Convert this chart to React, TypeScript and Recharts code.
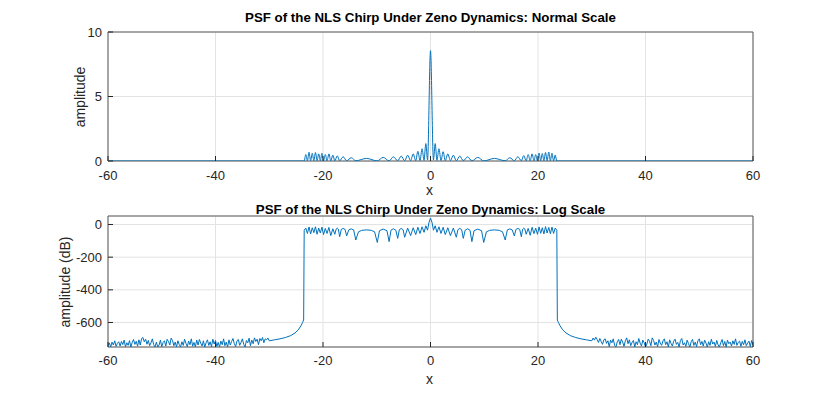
import { LineChart, Line, XAxis, YAxis, CartesianGrid, ReferenceArea } from "recharts";

// sample positions and amplitude of the PSF (normal scale)
const ampX = [
  -60, -23.5, -23.2, -22.9, -22.6, -22.3, -22.0, -21.7, -21.4, -21.1,
  -20.8, -20.5, -20.2, -19.9, -19.57, -19.25, -18.9, -18.55, -18.17, -17.8,
  -17.35, -16.9, -16.25, -15.6, -14.75, -13.9, -11.9, -9.9, -8.8, -7.7,
  -6.9, -6.1, -5.45, -4.8, -4.25, -3.7, -3.22, -2.75, -2.35, -1.95,
  -1.57, -1.2, -0.87, -0.55, 0, 0.55, 0.87, 1.2, 1.57, 1.95,
  2.35, 2.75, 3.22, 3.7, 4.25, 4.8, 5.45, 6.1, 6.9, 7.7,
  8.8, 9.9, 11.9, 13.9, 14.75, 15.6, 16.25, 16.9, 17.35, 17.8,
  18.17, 18.55, 18.9, 19.25, 19.57, 19.9, 20.2, 20.5, 20.8, 21.1,
  21.4, 21.7, 22.0, 22.3, 22.6, 22.9, 23.2, 23.5, 60,
];
const ampY = [
  0, 0, 0.5, 0.02, 0.68, 0.02, 0.6, 0.02, 0.66, 0.02,
  0.55, 0.02, 0.6, 0.02, 0.5, 0.02, 0.55, 0.02, 0.45, 0.02,
  0.4, 0.02, 0.33, 0.02, 0.25, 0.02, 0.2, 0.01, 0.28, 0.01,
  0.32, 0.02, 0.38, 0.02, 0.45, 0.03, 0.55, 0.03, 0.75, 0.04,
  0.95, 0.05, 1.35, 0.08, 8.55, 0.08, 1.35, 0.05, 0.95, 0.04,
  0.72, 0.03, 0.55, 0.03, 0.45, 0.02, 0.38, 0.02, 0.32, 0.01,
  0.28, 0.01, 0.2, 0.02, 0.25, 0.02, 0.33, 0.02, 0.42, 0.02,
  0.5, 0.02, 0.55, 0.02, 0.5, 0.02, 0.62, 0.02, 0.58, 0.02,
  0.66, 0.02, 0.7, 0.02, 0.6, 0.02, 0.45, 0, 0,
];

// log scale: noise floor sampled every 0.25 from -60 and from 30.25
const NOISE_STEP = 0.25;
const noiseLeftStart = -60;
const noiseRightStart = 30.25;
const noiseLeft = [
  -742, -725, -750, -720, -738, -712, -746, -728, -718, -744,
  -716, -735, -708, -748, -724, -740, -711, -750, -722, -704,
  -734, -715, -745, -706, -738, -698, -692, -718, -702, -733,
  -710, -742, -724, -700, -736, -749, -720, -750, -738, -708,
  -748, -722, -712, -744, -703, -716, -738, -696, -710, -742,
  -720, -750, -712, -735, -750, -718, -740, -702, -728, -748,
  -714, -736, -700, -745, -722, -749, -708, -738, -704, -726,
  -744, -712, -750, -724, -706, -740, -718, -748, -702, -732,
  -710, -746, -722, -750, -714, -736, -700, -742, -720, -750,
  -706, -738, -716, -698, -730, -747, -712, -704, -740, -722,
  -700, -734, -750, -710, -724, -696, -742, -708, -730, -694,
  -716, -702, -736, -698, -712, -692, -724, -700, -706, -695,
];
const noiseRight = [
  -695, -708, -690, -704, -722, -698, -716, -734, -706, -700,
  -728, -712, -748, -708, -724, -700, -740, -750, -718, -704,
  -736, -702, -720, -746, -712, -694, -730, -706, -742, -722,
  -710, -750, -718, -736, -698, -726, -744, -708, -724, -750,
  -732, -702, -714, -742, -694, -710, -738, -720, -748, -704,
  -726, -740, -712, -700, -736, -718, -750, -706, -728, -744,
  -714, -702, -734, -722, -750, -710, -698, -738, -724, -746,
  -708, -730, -750, -718, -704, -740, -720, -748, -712, -700,
  -736, -716, -744, -708, -726, -750, -718, -740, -702, -732,
  -720, -746, -710, -736, -750, -724, -704, -742, -716, -750,
  -708, -730, -720, -744, -712, -734, -700, -740, -722, -714,
  -746, -716, -736, -706, -742, -726, -714, -748, -710, -738,
];

// band region (-30..30): edges, lobes and nulls in dB
const bandX = [
  -30, -29, -28, -27, -26, -25.2, -24.6, -24.1, -23.8, -23.6,
  -23.5, -23.2, -22.9, -22.6, -22.3, -22.0, -21.7, -21.4, -21.1, -20.8,
  -20.5, -20.2, -19.9, -19.57, -19.25, -18.9, -18.55, -18.17, -17.8, -17.55,
  -17.35, -17.15, -16.9, -16.6, -16.25, -15.9, -15.6, -15.2, -14.75, -14.3,
  -13.9, -13.4, -12.8, -11.9, -11.0, -10.4, -9.9, -9.5, -8.8, -8.1,
  -7.7, -7.35, -6.9, -6.45, -6.1, -5.8, -5.45, -5.1, -4.8, -4.25,
  -3.7, -3.22, -2.75, -2.35, -1.95, -1.57, -1.2, -0.87, -0.55, -0.3,
  0, 0.3, 0.55, 0.87, 1.2, 1.57, 1.95, 2.35, 2.75, 3.22,
  3.7, 4.25, 4.8, 5.1, 5.45, 5.8, 6.1, 6.45, 6.9, 7.35,
  7.7, 8.1, 8.8, 9.5, 9.9, 10.4, 11.0, 11.9, 12.8, 13.4,
  13.9, 14.3, 14.75, 15.2, 15.6, 15.9, 16.25, 16.6, 16.9, 17.15,
  17.35, 17.55, 17.8, 18.17, 18.55, 18.9, 19.25, 19.57, 19.9, 20.2,
  20.5, 20.8, 21.1, 21.4, 21.7, 22.0, 22.3, 22.6, 22.9, 23.2,
  23.5, 23.6, 23.8, 24.1, 24.6, 25.2, 26, 27, 28, 29,
  30,
];
const bandDb = [
  -712, -706, -700, -692, -680, -664, -645, -620, -600, -585,
  -35, -22, -55, -15, -58, -20, -50, -14, -60, -22,
  -52, -16, -62, -24, -55, -18, -68, -26, -60, -28,
  -22, -28, -75, -30, -24, -30, -70, -33, -27, -33,
  -95, -45, -36, -33, -36, -45, -110, -38, -28, -38,
  -105, -35, -26, -35, -85, -32, -24, -32, -78, -22,
  -68, -20, -62, -17, -55, -14, -48, -8, -35, 10,
  40, 10, -35, -8, -48, -14, -55, -17, -62, -20,
  -68, -22, -78, -32, -24, -32, -85, -35, -26, -35,
  -105, -38, -28, -38, -110, -45, -36, -33, -36, -45,
  -95, -33, -27, -33, -70, -30, -24, -30, -75, -28,
  -22, -28, -60, -24, -66, -17, -56, -22, -60, -15,
  -54, -20, -58, -13, -52, -18, -57, -16, -55, -22,
  -35, -585, -600, -620, -645, -664, -680, -692, -700, -706,
  -712,
];

const xTicks = [-60, -40, -20, 0, 20, 40, 60];
const normalTicks = [0, 5, 10];
const logTicks = [-600, -400, -200, 0];

const normalData = ampX.map((x, i) => ({ x, y: ampY[i] }));
const logData = [
  ...noiseLeft.map((y, i) => ({ x: noiseLeftStart + i * NOISE_STEP, y })),
  ...bandX.map((x, i) => ({ x, y: bandDb[i] })),
  ...noiseRight.map((y, i) => ({ x: noiseRightStart + i * NOISE_STEP, y })),
];

const FONT = "'Liberation Sans', Arial, Helvetica, sans-serif";
const TEXT = "#262626";
const BLUE = "#0072BD";

const tickStyle = { fontSize: 13, fill: TEXT, fontFamily: FONT };

const Panel = ({ data, domain, yTicks, lineType, height, marginTop, marginBottom, xTickMargin }) => (
  <LineChart
    width={830}
    height={height}
    data={data}
    margin={{ top: marginTop, right: 77, bottom: marginBottom, left: 68 }}
  >
    <CartesianGrid stroke="#e3e3e3" strokeWidth={1} />
    <XAxis
      dataKey="x"
      type="number"
      domain={[-60, 60]}
      ticks={xTicks}
      allowDataOverflow
      axisLine={false}
      tickLine={{ stroke: TEXT }}
      tickSize={-5}
      tickMargin={xTickMargin}
      height={30}
      tick={tickStyle}
    />
    <XAxis
      xAxisId="top"
      orientation="top"
      dataKey="x"
      type="number"
      domain={[-60, 60]}
      ticks={xTicks}
      allowDataOverflow
      axisLine={false}
      tickLine={{ stroke: TEXT }}
      tickSize={-5}
      height={0}
      tick={false}
    />
    <YAxis
      type="number"
      domain={domain}
      ticks={yTicks}
      allowDataOverflow
      axisLine={false}
      tickLine={{ stroke: TEXT }}
      tickSize={-5}
      tickMargin={11}
      width={40}
      tick={tickStyle}
    />
    <YAxis
      yAxisId="right"
      orientation="right"
      type="number"
      domain={domain}
      ticks={yTicks}
      allowDataOverflow
      axisLine={false}
      tickLine={{ stroke: TEXT }}
      tickSize={-5}
      width={0}
      tick={false}
    />
    <ReferenceArea
      x1={-60}
      x2={60}
      y1={domain[0]}
      y2={domain[1]}
      fill="none"
      stroke="#5a5a5a"
      strokeWidth={1}
    />
    <Line
      type={lineType}
      dataKey="y"
      stroke={BLUE}
      strokeWidth={1}
      dot={false}
      isAnimationActive={false}
    />
  </LineChart>
);

const titleStyle = {
  position: "absolute",
  left: 0,
  width: 861,
  textAlign: "center",
  fontFamily: FONT,
  fontWeight: 700,
  fontSize: 13.3,
  color: "#000",
  lineHeight: "16px",
} as const;

const labelStyle = {
  position: "absolute",
  fontFamily: FONT,
  fontSize: 14,
  color: TEXT,
  lineHeight: "16px",
  whiteSpace: "nowrap",
} as const;

export default function App() {
  return (
    <div
      style={{
        position: "absolute",
        left: 0,
        top: 0,
        width: 830,
        height: 395,
        background: "#fff",
        overflow: "hidden",
      }}
    >
      <div style={{ position: "absolute", left: 0, top: 0 }}>
        <Panel
          data={normalData}
          domain={[0, 10]}
          yTicks={normalTicks}
          lineType="monotone"
          height={200}
          marginTop={32}
          marginBottom={9}
          xTickMargin={15}
        />
      </div>
      <div style={{ position: "absolute", left: 0, top: 184 }}>
        <Panel
          data={logData}
          domain={[-750, 52]}
          yTicks={logTicks}
          lineType="linear"
          height={211}
          marginTop={32}
          marginBottom={18}
          xTickMargin={14}
        />
      </div>

      <div style={{ ...titleStyle, top: 10 }}>
        PSF of the NLS Chirp Under Zeno Dynamics: Normal Scale
      </div>
      <div style={{ ...titleStyle, top: 202 }}>
        PSF of the NLS Chirp Under Zeno Dynamics: Log Scale
      </div>

      <div style={{ ...labelStyle, left: 426, top: 182 }}>x</div>
      <div style={{ ...labelStyle, left: 426, top: 371 }}>x</div>

      <div
        style={{
          ...labelStyle,
          left: 80,
          top: 97,
          transform: "translate(-50%, -50%) rotate(-90deg)",
        }}
      >
        amplitude
      </div>
      <div
        style={{
          ...labelStyle,
          left: 65,
          top: 282,
          transform: "translate(-50%, -50%) rotate(-90deg)",
        }}
      >
        amplitude (dB)
      </div>
    </div>
  );
}
